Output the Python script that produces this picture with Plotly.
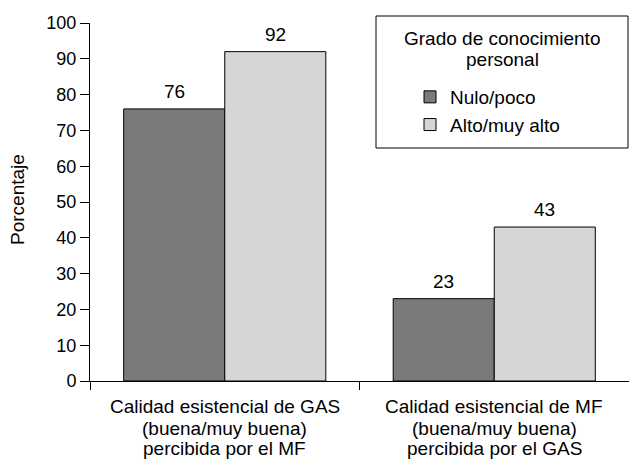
import plotly.graph_objects as go

categories = ["GAS", "MF"]
category_lines = [
    ["Calidad esistencial de GAS", "(buena/muy buena)", "percibida por el MF"],
    ["Calidad esistencial de MF", "(buena/muy buena)", "percibida por el GAS"],
]
series_names = ["Nulo/poco", "Alto/muy alto"]
nulo_poco = [76, 23]
alto_muy_alto = [92, 43]
colors = ["#7a7a7a", "#d6d6d6"]
legend_title_lines = ["Grado de conocimiento", "personal"]
y_ticks = list(range(0, 101, 10))

font = "Liberation Sans, Arial, sans-serif"
W, H = 629, 461
ML, MR, MT, MB = 90, 0, 23, 80
PW, PH = W - ML - MR, H - MT - MB

def px_x(p):
    return (p - ML) / PW

def px_y(p):
    return (H - MB - p) / PH

fig = go.Figure()
for name, vals, col in zip(series_names, [nulo_poco, alto_muy_alto], colors):
    fig.add_trace(go.Bar(
        x=categories, y=vals, name=name,
        marker=dict(color=col, line=dict(color="black", width=1)),
        cliponaxis=False, hoverinfo="skip",
    ))

annotations = []
# value labels above bars
bargap = 0.25
half = (1 - bargap) / 4
for si, vals in enumerate([nulo_poco, alto_muy_alto]):
    off = -half if si == 0 else half
    for ci, v in enumerate(vals):
        annotations.append(dict(x=ci + off, y=v, xref="x", yref="y", text=str(v),
                                showarrow=False, xanchor="center", yanchor="bottom", yshift=5,
                                font=dict(size=19, family=font, color="black")))
# category labels
line_centers = [406, 428, 449]
for ci, lines in enumerate(category_lines):
    for li, t in enumerate(lines):
        annotations.append(dict(x=ci, y=px_y(line_centers[li]), xref="x", yref="paper", text=t,
                                showarrow=False, xanchor="center", yanchor="middle",
                                font=dict(size=19, family=font, color="black")))
# legend title
for li, t in enumerate(legend_title_lines):
    annotations.append(dict(x=px_x(502), y=px_y([38, 59][li]), xref="paper", yref="paper", text=t,
                            showarrow=False, xanchor="center", yanchor="middle",
                            font=dict(size=19, family=font, color="black")))
# y axis title
annotations.append(dict(x=px_x(18), y=px_y(200), xref="paper", yref="paper", text="Porcentaje",
                        showarrow=False, textangle=-90, xanchor="center", yanchor="middle",
                        font=dict(size=19, family=font, color="black")))

shapes = [dict(type="rect", xref="paper", yref="paper",
               x0=px_x(376), x1=px_x(628), y0=px_y(148), y1=px_y(16),
               line=dict(color="black", width=1), fillcolor="rgba(0,0,0,0)")]

fig.update_layout(
    width=W, height=H,
    margin=dict(l=ML, r=MR, t=MT, b=MB),
    paper_bgcolor="white", plot_bgcolor="white",
    barmode="group", bargap=bargap, bargroupgap=0,
    font=dict(family=font, size=18, color="black"),
    xaxis=dict(type="category", range=[-0.5, 1.5], showline=True, linecolor="black", linewidth=1,
               ticks="outside", tickson="boundaries", ticklen=8, tickcolor="black",
               showticklabels=False, showgrid=False, automargin=False),
    yaxis=dict(range=[0, 100], tickvals=y_ticks, showline=True, linecolor="black", linewidth=1,
               ticks="outside", ticklen=9, tickcolor="black", showgrid=False, zeroline=False,
               tickfont=dict(size=18), automargin=False),
    legend=dict(x=px_x(410), y=px_y(78), xanchor="left", yanchor="top",
                borderwidth=0, bgcolor="rgba(0,0,0,0)",
                font=dict(size=19), traceorder="normal"),
    annotations=annotations,
    shapes=shapes,
)

fig.write_html("out.html", config={"displayModeBar": False},
               post_script="document.body.style.margin='0';document.body.style.padding='0';")
